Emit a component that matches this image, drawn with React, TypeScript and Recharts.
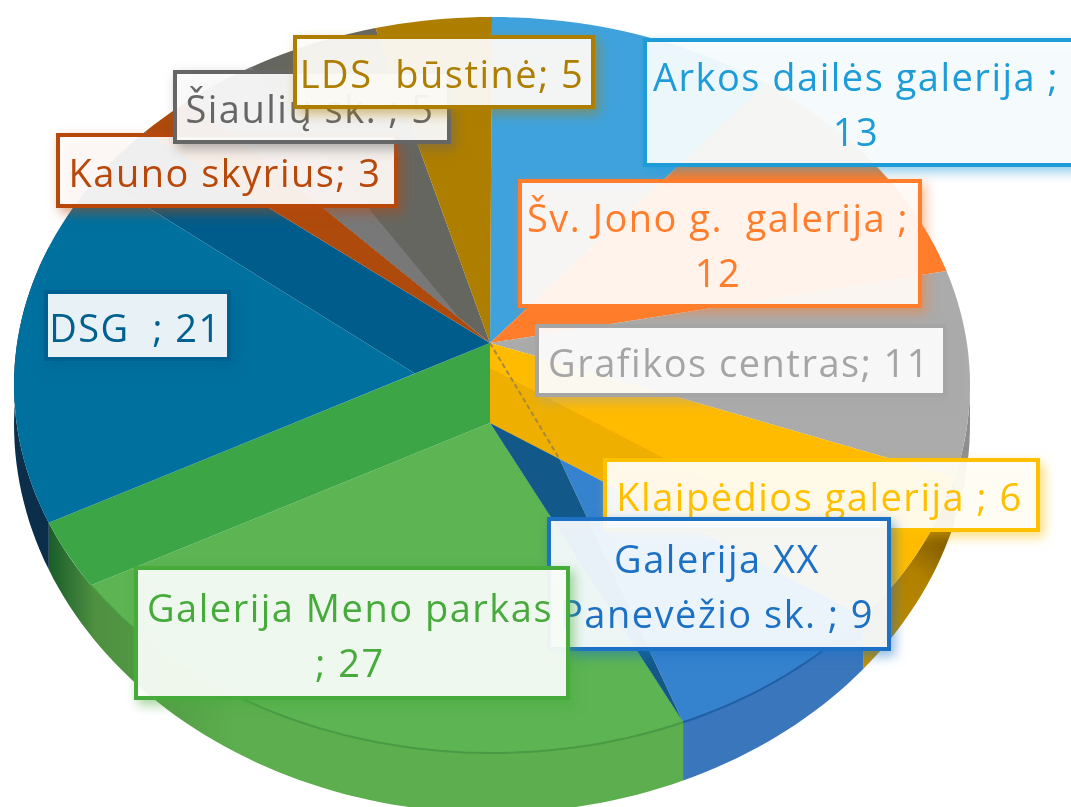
import { PieChart, Pie } from 'recharts';

const galleries = [
  'Arkos dailės galerija',
  'Šv. Jono g. galerija',
  'Grafikos centras',
  'Klaipėdios galerija',
  'Galerija XX',
  'Galerija Meno parkas',
  'DSG',
  'Kauno skyrius',
  'Šiaulių sk.',
  'LDS būstinė',
];
const counts = [13, 12, 11, 6, 9, 27, 21, 3, 5, 5];
const fills = ['#3FA2DC', '#FF7D2B', '#ABABAB', '#FFBB00', '#3583CE', '#5CB452', '#00709F', '#AD4A0C', '#787878', '#AE7E00'];
const borders = ['#1E9CD8', '#FF7D2B', '#A5A5A5', '#FFC000', '#1C71C4', '#47AB3C', '#00608F', '#B8480A', '#666666', '#AE7E00'];
const labelLines = [
  ['Arkos dailės galerija ;', '13'],
  ['Šv. Jono g.  galerija ;', '12'],
  ['Grafikos centras; 11'],
  ['Klaipėdios galerija ; 6'],
  ['Galerija XX', 'Panevėžio sk. ; 9'],
  ['Galerija Meno parkas', '; 27'],
  ['DSG  ; 21'],
  ['Kauno skyrius; 3'],
  ['Šiaulių sk. ; 5'],
  ['LDS  būstinė; 5'],
];

// layout only: label boxes as x, y, w, h
const labelBoxes = [
  [645, 40, 432, 125],
  [520, 181, 400, 125],
  [537, 326, 408, 69],
  [605, 460, 433, 70],
  [549, 519, 340, 130],
  [136, 568, 432, 130],
  [46, 292, 183, 67],
  [58, 135, 338, 71],
  [175, 72, 274, 70],
  [295, 37, 298, 70],
];

const data = galleries.map((name, i) => ({ name, value: counts[i], fill: fills[i] }));

const TILT = 368 / 478;
const TOP_APEX = { x: 490, y: 343 };
const FLOOR_APEX = { x: 490, y: 423 };
const WALL = 60;

// the tilted view squeezes some angles: slice angle -> angle on the ellipse
const warp = [
  [0, 0], [41.8, 35], [80.4, 72], [115.7, 104.5], [135, 129], [164, 156.5],
  [250.7, 248], [318.2, 313.4], [327.9, 320.8], [344, 346], [360, 360],
];

function toEllipse(t: number) {
  for (let i = 1; i < warp.length; i++) {
    if (t <= warp[i][0] + 0.2) {
      const k = (t - warp[i - 1][0]) / (warp[i][0] - warp[i - 1][0]);
      return warp[i - 1][1] + k * (warp[i][1] - warp[i - 1][1]);
    }
  }
  return t;
}

type P = { x: number; y: number };

function lerp(a: P, b: P, k: number): P {
  return { x: a.x + (b.x - a.x) * k, y: a.y + (b.y - a.y) * k };
}

function poly(points: P[]) {
  return 'M' + points.map((p) => `${p.x.toFixed(1)},${p.y.toFixed(1)}`).join('L') + 'Z';
}

function line(points: P[]) {
  return 'M' + points.map((p) => `${p.x.toFixed(1)},${p.y.toFixed(1)}`).join('L');
}

function SliceShape(props: any) {
  const { cx, cy, outerRadius, startAngle, endAngle, name, fill } = props;
  const rim = (phi: number): P => {
    const r = (phi * Math.PI) / 180;
    return { x: cx + outerRadius * Math.sin(r), y: cy - outerRadius * TILT * Math.cos(r) };
  };
  const low = (phi: number): P => {
    const p = rim(phi);
    const c = Math.abs(Math.cos((phi * Math.PI) / 180));
    return { x: p.x, y: p.y + WALL * (0.65 + 0.35 * c) };
  };
  const arc = (from: number, to: number, f = rim) => {
    const out: P[] = [];
    const n = Math.max(2, Math.ceil(Math.abs(to - from) / 1.5));
    for (let i = 0; i <= n; i++) out.push(f(from + ((to - from) * i) / n));
    return out;
  };
  const wall = (from: number, to: number) => poly([...arc(from, to), ...arc(to, from, low)]);

  const a0 = toEllipse(90 - startAngle);
  const a1 = toEllipse(90 - endAngle);
  const plain = <path d={poly([TOP_APEX, ...arc(a0, a1)])} fill={fill} />;

  if (name === 'Grafikos centras') {
    return (
      <g>
        <path d={wall(90, a1)} fill="#8E8E8E" />
        {plain}
      </g>
    );
  }
  if (name === 'Klaipėdios galerija') {
    const inner = lerp(FLOOR_APEX, rim(a1), 0.186);
    return (
      <g>
        <defs>
          <linearGradient id="yellowWall" gradientUnits="userSpaceOnUse" x1="950" y1="520" x2="850" y2="670">
            <stop offset="0" stopColor="#6A4A00" />
            <stop offset="0.35" stopColor="#B08000" />
            <stop offset="1" stopColor="#C79300" />
          </linearGradient>
        </defs>
        <path d={wall(a0, a1)} fill="url(#yellowWall)" />
        <path d={poly([TOP_APEX, ...arc(a0, a1), inner, FLOOR_APEX])} fill={fill} />
        <path
          d={poly([{ x: 490, y: 368 }, FLOOR_APEX, inner, lerp(inner, rim(a1), 0.7), { x: 760, y: 508 }])}
          fill="#EFAF00"
        />
        <path d={line([TOP_APEX, inner])} stroke="#A88A3A" strokeWidth={2} strokeDasharray="5 3" />
      </g>
    );
  }
  if (name === 'Galerija XX') {
    const inner = lerp(FLOOR_APEX, rim(a0), 0.186);
    const rimStart = rim(a1);
    return (
      <g>
        <path d={wall(a0, a1)} fill="#3A76BC" />
        <path d={poly([FLOOR_APEX, rimStart, low(a1)])} fill="#12598A" />
        <path d={poly([inner, ...arc(a0, a1)])} fill={fill} />
        <path d={poly([FLOOR_APEX, inner, rimStart])} fill="#12598A" />
        <path d={line(arc(a0, a1))} fill="none" stroke="#1F5FA6" strokeWidth={2} />
      </g>
    );
  }
  if (name === 'Galerija Meno parkas') {
    const floorEnd = a1 - 11;
    return (
      <g>
        <defs>
          <linearGradient id="greenWall" gradientUnits="userSpaceOnUse" x1="50" y1="0" x2="420" y2="0">
            <stop offset="0" stopColor="#1A5E2A" />
            <stop offset="0.12" stopColor="#4E8F40" />
            <stop offset="0.5" stopColor="#5CAE4E" />
          </linearGradient>
        </defs>
        <path d={wall(a0, a1)} fill="url(#greenWall)" />
        <path d={poly([FLOOR_APEX, ...arc(a0, floorEnd)])} fill={fill} />
        <path d={poly([TOP_APEX, FLOOR_APEX, ...arc(floorEnd, a1)])} fill="#3CA646" />
        <path d={line(arc(a0, floorEnd))} fill="none" stroke="#4A9A45" strokeWidth={2} />
      </g>
    );
  }
  if (name === 'DSG') {
    const split = lerp(TOP_APEX, rim(a0), 0.17);
    const bandStart = 304.5;
    return (
      <g>
        <path d={wall(a0, 292)} fill="#0B2F4A" />
        <path d={poly([TOP_APEX, split, ...arc(bandStart, a1)])} fill="#005C8A" />
        <path d={poly([split, ...arc(a0, bandStart)])} fill={fill} />
      </g>
    );
  }
  if (name === 'Šiaulių sk.') {
    return (
      <g>
        <path d={poly([TOP_APEX, ...arc(a0, a1)])} fill="#666660" />
        <path d={poly([lerp(TOP_APEX, rim(a0), 0.1), ...arc(a0, a0 + 9)])} fill={fill} />
      </g>
    );
  }
  return plain;
}

function renderLabel(props: any) {
  const i = props.index;
  const [x, y, w, h] = labelBoxes[i];
  const lines = labelLines[i];
  const color = borders[i];
  const spacing = 55;
  const first = y + h / 2 + 16 - ((lines.length - 1) * spacing) / 2;
  // the Arkos box runs off the right edge, its text is centred a little left
  const mid = i === 0 ? 856 : x + w / 2 - 2;
  return (
    <g key={galleries[i]}>
      <rect
        x={x}
        y={y}
        width={w}
        height={h}
        fill="#FFFFFF"
        fillOpacity={0.91}
        stroke={color}
        strokeWidth={4}
        style={{ filter: `drop-shadow(4px 5px 6px ${color}88)` }}
      />
      {lines.map((text, k) => (
        <text
          key={k}
          x={mid}
          y={first + k * spacing}
          textAnchor="middle"
          fontFamily="'Open Sans', Lato, sans-serif"
          fontSize={38}
          letterSpacing={1.5}
          fill={color}
          style={{ whiteSpace: 'pre' }}
        >
          {text}
        </text>
      ))}
    </g>
  );
}

export default function App() {
  return (
    <div style={{ position: 'fixed', left: 0, top: 0, width: 1071, height: 807, overflow: 'hidden', background: '#fff' }}>
      <div style={{ filter: 'blur(0.7px)' }}>
        <PieChart width={1071} height={807} margin={{ top: 0, right: 0, bottom: 0, left: 0 }}>
          <Pie
            data={data}
            dataKey="value"
            nameKey="name"
            cx={492}
            cy={385}
            outerRadius={478}
            startAngle={90}
            endAngle={-270}
            stroke="none"
            shape={SliceShape}
            label={renderLabel}
            labelLine={false}
            isAnimationActive={false}
          />
        </PieChart>
      </div>
    </div>
  );
}
